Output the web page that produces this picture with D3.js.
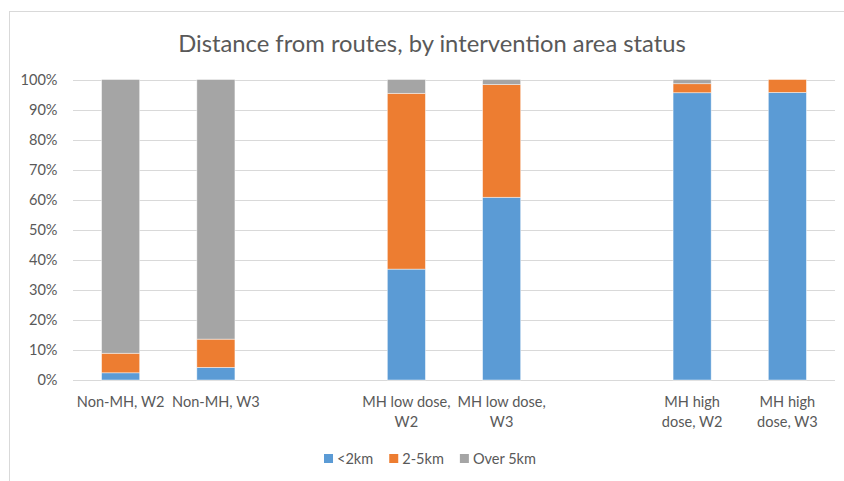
<!DOCTYPE html>
<html><head><meta charset="utf-8">
<script src="https://cdn.jsdelivr.net/npm/d3@7"></script>
<style>body{margin:0;background:#fff;} svg{display:block;}</style>
</head><body>
<svg id="chart" width="844" height="481"></svg>
<script>
const categories = ["Non-MH, W2","Non-MH, W3","","MH low dose, W2","MH low dose, W3","","MH high dose, W2","MH high dose, W3"];
const seriesNames = ["<2km","2-5km","Over 5km"];
const under2km = [2.4, 4.2, 0, 36.9, 60.8, 0, 95.6, 95.7];
const from2to5km = [6.5, 9.4, 0, 58.5, 37.5, 0, 3.0, 4.3];
const over5km = [91.1, 86.4, 0, 4.6, 1.7, 0, 1.4, 0];
const yTicks = [0,0.1,0.2,0.3,0.4,0.5,0.6,0.7,0.8,0.9,1];
const colors = ["#5B9BD5","#ED7D31","#A5A5A5"];
const titleText = "Distance from routes, by intervention area status";

(function(){
const svg = d3.select("#chart");
const FONT = "Lato, 'Liberation Sans', sans-serif";
const textColor = "#595959";

const meas = svg.append("text").attr("font-family", FONT).attr("visibility","hidden");
function width(str, size){ meas.attr("font-size", size).text(str); return meas.node().getComputedTextLength(); }
const labelSize = 16 * 87.7 / width("Non-MH, W2", 16);
const titleSize = 24 * 508 / width(titleText, 24);

svg.append("rect").attr("x",9.5).attr("y",11.5).attr("width",850).attr("height",480)
  .attr("fill","none").attr("stroke","#D9D9D9").attr("stroke-width",1);

const pLeft = 73, pRight = 835, pTop = 79.5, pBottom = 380;
const x = d3.scaleBand().domain(d3.range(categories.length)).range([pLeft,pRight]).paddingInner(0.6).paddingOuter(0.3);
const y = d3.scaleLinear().domain([0,1]).range([pBottom, pTop]);

svg.append("g").selectAll("line").data(yTicks).join("line")
  .attr("x1",pLeft).attr("x2",pRight)
  .attr("y1",d=>Math.round(y(d))+0.5).attr("y2",d=>Math.round(y(d))+0.5)
  .attr("stroke","#D9D9D9").attr("stroke-width",1);

const yAxis = d3.axisLeft(y).tickValues(yTicks).tickFormat(d3.format(".0%")).tickSize(0).tickPadding(0);
const ya = svg.append("g").attr("transform",`translate(${pLeft-15.5},0)`).call(yAxis);
ya.select(".domain").remove();
ya.selectAll("text").attr("font-family",FONT).attr("font-size",labelSize).attr("fill",textColor);

const rows = categories.map((c,i)=>({i, "<2km":under2km[i]/100, "2-5km":from2to5km[i]/100, "Over 5km":over5km[i]/100}));
const stack = d3.stack().keys(seriesNames)(rows);
svg.append("g").selectAll("g").data(stack).join("g").attr("fill",(d,i)=>colors[i])
  .selectAll("rect").data(d=>d.filter(s=>s[1]-s[0]>0)).join("rect")
  .attr("x",d=>x(d.data.i)).attr("width",x.bandwidth())
  .attr("y",d=>y(d[1])).attr("height",d=>y(d[0])-y(d[1]))
  .attr("stroke","#fff").attr("stroke-width",0.75).attr("stroke-opacity",0.6);

const xg = svg.append("g");
categories.forEach((c,i)=>{
  if(!c) return;
  const words = c.split(" ");
  const lines = []; let cur = "";
  words.forEach(w=>{
    const t = cur ? cur+" "+w : w;
    if(cur && width(t,labelSize) > x.step()*0.97){ lines.push(cur); cur = w; } else cur = t;
  });
  lines.push(cur);
  const t = xg.append("text").attr("text-anchor","middle").attr("font-family",FONT)
    .attr("font-size",labelSize).attr("fill",textColor);
  lines.forEach((l,k)=>t.append("tspan").attr("x",x(i)+x.bandwidth()/2).attr("y",406.5+k*20).text(l));
});

svg.append("text").attr("x",432).attr("y",51.5).attr("text-anchor","middle")
  .attr("font-family",FONT).attr("font-size",titleSize).attr("fill",textColor).text(titleText);

const legW = seriesNames.map(s=>13+width(s,labelSize));
const gap = 16;
const total = d3.sum(legW)+gap*(seriesNames.length-1);
let lx = 430 - total/2;
const lg = svg.append("g");
seriesNames.forEach((s,i)=>{
  lg.append("rect").attr("x",lx).attr("y",454).attr("width",9).attr("height",9).attr("fill",colors[i]);
  lg.append("text").attr("x",lx+13).attr("y",463.5).attr("font-family",FONT).attr("font-size",labelSize).attr("fill",textColor).text(s);
  lx += legW[i]+gap;
});
meas.remove();
})();
</script>
</body></html>
